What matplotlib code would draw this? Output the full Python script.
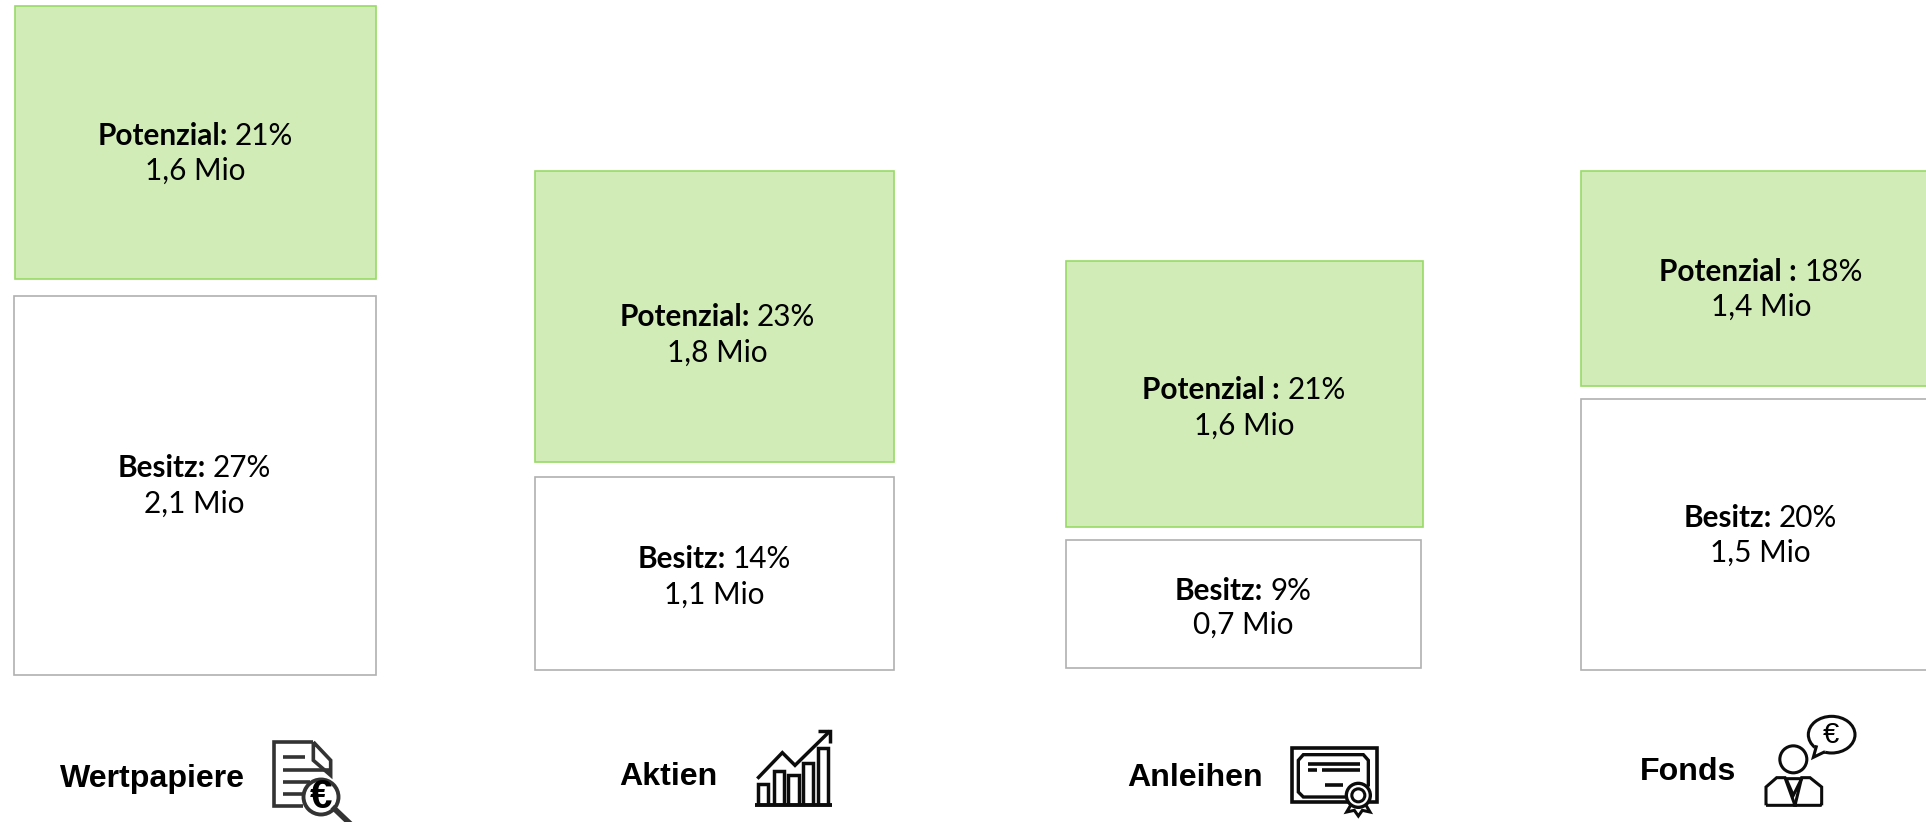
import matplotlib
matplotlib.use("Agg")
import matplotlib.pyplot as plt
from matplotlib.patches import Circle, Ellipse

# values as printed in the boxes
categories = ["Wertpapiere", "Aktien", "Anleihen", "Fonds"]
potenzial_label = ["Potenzial:", "Potenzial:", "Potenzial :", "Potenzial :"]
potenzial_pct = ["21%", "23%", "21%", "18%"]
potenzial_mio = ["1,6 Mio", "1,8 Mio", "1,6 Mio", "1,4 Mio"]
besitz_pct = ["27%", "14%", "9%", "20%"]
besitz_mio = ["2,1 Mio", "1,1 Mio", "0,7 Mio", "1,5 Mio"]

# box extents, in figure pixels
pot_left = [14.5, 534.5, 1065.5, 1580.5]
pot_right = [376, 894, 1422.5, 1960]
pot_top = [6, 171, 260.5, 171]
pot_bottom = [279, 462, 527, 386.5]
bes_left = [13.5, 534.5, 1065.5, 1580.5]
bes_right = [376, 894, 1421, 1960]
bes_top = [296, 476.5, 540, 398.5]
bes_bottom = [674.5, 670, 667.5, 670]

pot_x = [195, 717.5, 1244, 1761]
bes_x = [194.5, 714, 1243, 1760.5]
cat_x = [60, 619, 1127, 1640]
cat_y = [787, 785, 786, 780]
pot_base = [145, 326, 399, 281]
bes_base = [477, 568, 600, 527]
pot_gap = [34.5, 36, 36, 35]
bes_gap = [36, 36, 34, 34.5]

W, H = 1926, 822
GREEN = "#d1ecb6"
GREEN_EDGE = "#98da66"
GREY_EDGE = "#b0b0b0"
INK = "#0c0c0c"

fig = plt.figure(figsize=(W / 100, H / 100), dpi=100)
ax = fig.add_axes([0, 0, 1, 1])
ax.set_xlim(0, W)
ax.set_ylim(H, 0)
ax.axis("off")

for i in range(4):
    ax.bar(pot_left[i], pot_bottom[i] - pot_top[i], width=pot_right[i] - pot_left[i], bottom=pot_top[i],
           align="edge", color=GREEN, edgecolor=GREEN_EDGE, linewidth=1.2)
    ax.bar(bes_left[i], bes_bottom[i] - bes_top[i], width=bes_right[i] - bes_left[i], bottom=bes_top[i],
           align="edge", color="white", edgecolor=GREY_EDGE, linewidth=1.2)

fig.canvas.draw()
renderer = fig.canvas.get_renderer()


def box_text(cx, base, gap, bold, pct, mio):
    # bold head + regular percent on one line, centred together
    t1 = ax.text(0, base, bold, family="Lato", weight="bold", fontsize=21.4, color="black", va="baseline")
    t2 = ax.text(0, base, pct, family="Lato", fontsize=21.4, color="black", va="baseline")
    w1 = t1.get_window_extent(renderer).width
    w2 = t2.get_window_extent(renderer).width
    space = 7
    left = cx - (w1 + w2 + space) / 2
    t1.set_x(left)
    t2.set_x(left + w1 + space)
    ax.text(cx, base + gap, mio, family="Lato", fontsize=21.4, color="black", va="baseline", ha="center")


for i in range(4):
    box_text(pot_x[i], pot_base[i], pot_gap[i], potenzial_label[i], potenzial_pct[i], potenzial_mio[i])
    box_text(bes_x[i], bes_base[i], bes_gap[i], "Besitz:", besitz_pct[i], besitz_mio[i])
    ax.text(cat_x[i], cat_y[i], categories[i], family="Liberation Sans", weight="bold", fontsize=23.1,
            color="black", va="baseline")


def line(xs, ys, ox, oy, lw=2.2, color=INK):
    # icon coordinates come from the 3x crops
    ax.plot([ox + x / 3 for x in xs], [oy + y / 3 for y in ys], color=color, lw=lw,
            solid_capstyle="butt", solid_joinstyle="miter")


# document with magnifier
ox, oy = 265, 732
DOC = "#333333"
line([145, 28, 28, 115], [30, 30, 222, 222], ox, oy, 2.6, DOC)
line([145, 197, 197, 145, 145], [30, 85, 130, 85, 30], ox, oy, 2.6, DOC)
for x0, x1, y in [(55, 120, 75), (55, 195, 113), (55, 135, 150), (55, 115, 185)]:
    line([x0, x1], [y, y], ox, oy, 2.6, DOC)
ax.add_patch(Circle((ox + 168 / 3, oy + 195 / 3), 17.5, facecolor="white", edgecolor=DOC, lw=2.8, zorder=3))
ax.plot([ox + 208 / 3, ox + 250 / 3], [oy + 230 / 3, oy + 270 / 3], color=DOC, lw=4, zorder=3)
ax.text(ox + 167 / 3, oy + 196 / 3, "€", family="Liberation Sans", weight="bold", fontsize=29,
        ha="center", va="center", zorder=4)

# bars with arrow
ox, oy = 750, 722
for x0, x1, top in [(25, 55, 185), (72, 103, 147), (115, 147, 160), (160, 190, 123), (205, 235, 78)]:
    line([x0, x0, x1, x1], [250, top, top, 250], ox, oy, 2.5)
line([15, 245], [250, 250], ox, oy, 2.8)
line([22, 97, 135, 240], [170, 92, 130, 27], ox, oy, 2.5)
line([205, 240, 240], [27, 27, 62], ox, oy, 2.5)

# certificate
ox, oy = 1285, 732
line([190, 20, 20, 276, 276, 250], [210, 210, 48, 48, 210, 210], ox, oy, 2.6)
line([180, 55, 40, 40, 55, 235, 250, 250, 240], [195, 195, 180, 85, 68, 68, 85, 160, 170], ox, oy, 2.4)
for x0, x1, y in [(70, 225, 95), (70, 97, 115), (110, 225, 115), (120, 175, 160)]:
    line([x0, x1], [y, y], ox, oy, 2.6)
ax.add_patch(Circle((ox + 220 / 3, oy + 190 / 3), 12, facecolor="white", edgecolor=INK, lw=2.4, zorder=3))
ax.add_patch(Circle((ox + 220 / 3, oy + 190 / 3), 6.5, facecolor="white", edgecolor=INK, lw=2.2, zorder=4))
line([198, 185, 208, 220, 232, 255, 242], [218, 240, 235, 252, 235, 240, 218], ox, oy, 2.2)

# adviser with speech bubble
ox, oy = 1760, 712
ax.add_patch(Circle((ox + 100 / 3, oy + 142 / 3), 13.5, facecolor="white", edgecolor=INK, lw=2.2))
ax.add_patch(Ellipse((ox + 215 / 3, oy + 68 / 3), 140 / 3, 110 / 3, facecolor="white", edgecolor=INK, lw=2.2))
ax.fill([ox + 168 / 3, ox + 160 / 3, ox + 195 / 3], [oy + 100 / 3, oy + 136 / 3, oy + 118 / 3], color="white", zorder=3)
line([170, 160, 195], [100, 136, 119], ox, oy, 2.2)
ax.lines[-1].set_zorder(4)
ax.text(ox + 214 / 3, oy + 70 / 3, "€", family="Liberation Sans", fontsize=21, ha="center", va="center", zorder=4)
line([18, 18, 50, 75, 105, 18], [280, 225, 197, 197, 280, 280], ox, oy, 2.2)
line([185, 185, 150, 125, 105, 185], [280, 225, 197, 197, 280, 280], ox, oy, 2.2)
line([78, 125, 100, 78], [200, 200, 250, 200], ox, oy, 2.2)

fig.savefig("out.png", dpi=100, facecolor="white")
